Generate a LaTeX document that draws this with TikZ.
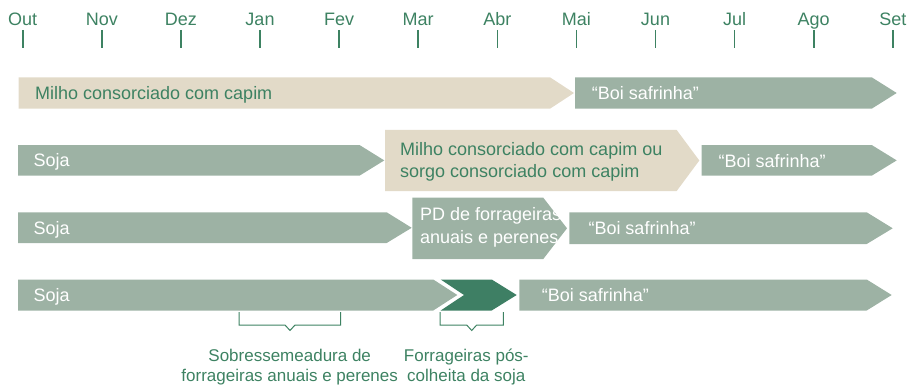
\documentclass[tikz,border=0pt]{standalone}
\usepackage{fontspec}
\setmainfont{Liberation Sans}
\definecolor{beige}{HTML}{E2DAC8}
\definecolor{sage}{HTML}{9DB2A4}
\definecolor{dkgreen}{HTML}{3E7F64}
\definecolor{txtgreen}{HTML}{3D8262}
\begin{document}
\begin{tikzpicture}[x=1pt,y=-1pt,
  lbl/.style={font=\fontsize{18}{20}\selectfont, inner sep=0, anchor=base west},
  wlbl/.style={lbl, text=white},
  glbl/.style={lbl, text=txtgreen},
  month/.style={font=\fontsize{18}{20}\selectfont, inner sep=0, anchor=base, text=txtgreen},
  monthtick/.style={draw=txtgreen, line width=1.6pt},
  bracket/.style={draw=txtgreen, line width=1pt},
  note/.style={font=\fontsize{17}{20}\selectfont, inner sep=0, anchor=base, text=txtgreen}]

\useasboundingbox (0,0) rectangle (907,385);

% timeline
\foreach \m [count=\i from 0] in {Out,Nov,Dez,Jan,Fev,Mar,Abr,Mai,Jun,Jul,Ago,Set} {
  \node[month] (m\i) at ({22.7+79.1*\i},26) {\m};
  \draw[monthtick] ({22.7+79.1*\i},30) -- ({22.7+79.1*\i},48.3);
}

% row 1
\fill[beige] (18.5,77.3) -- (550,77.3) -- (574,93) -- (550,108.7) -- (18.5,108.7) -- cycle;
\fill[sage] (575,77.3) -- (871.7,77.3) -- (896.7,93) -- (871.7,108.7) -- (575,108.7) -- cycle;

% row 2
\fill[sage] (18,145) -- (359.5,145) -- (384.3,160.4) -- (359.5,175.7) -- (18,175.7) -- cycle;
\fill[beige] (385,130) -- (676.7,130) -- (699.3,160.5) -- (676.7,191) -- (385,191) -- cycle;
\fill[sage] (701.7,145) -- (871.7,145) -- (896.7,160.4) -- (871.7,175.7) -- (701.7,175.7) -- cycle;

% row 3
\fill[sage] (18,212.3) -- (386.7,212.3) -- (411.7,227.8) -- (386.7,243) -- (18,243) -- cycle;
\fill[sage] (412.3,197.7) -- (543.3,197.7) -- (567,228.3) -- (543.3,259) -- (412.3,259) -- cycle;
\fill[sage] (569.3,212.3) -- (866.7,212.3) -- (892.7,228.3) -- (866.7,244) -- (569.3,244) -- cycle;

% row 4
\fill[sage] (18,279.5) -- (433.3,279.5) -- (457.3,295) -- (433.3,310.5) -- (18,310.5) -- cycle;
\fill[dkgreen] (440.7,279.5) -- (491.7,279.5) -- (516.7,295) -- (491.7,310.5) -- (440.7,310.5) -- (464,295) -- cycle;
\fill[sage] (519.3,279.5) -- (866.7,279.5) -- (891.7,295) -- (866.7,310.5) -- (519.3,310.5) -- cycle;

% texts
\node[glbl] (t1a) at (35,99.3) {Milho consorciado com capim};
\node[wlbl] (t1b) at (591.7,99.3) {“Boi safrinha”};
\node[wlbl] (t2a) at (33.3,166.8) {Soja};
\node[glbl] (t2b1) at (400,155) {Milho consorciado com capim ou};
\node[glbl] (t2b2) at (400,177) {sorgo consorciado com capim};
\node[wlbl] (t2c) at (718.3,167) {“Boi safrinha”};
\node[wlbl] (t3a) at (33.3,234.5) {Soja};
\node[wlbl] (t3b1) at (420,220) {PD de forrageiras};
\node[wlbl] (t3b2) at (420,243) {anuais e perenes};
\node[wlbl] (t3c) at (588.3,234.5) {“Boi safrinha”};
\node[wlbl] (t4a) at (33.3,301.5) {Soja};
\node[wlbl] (t4b) at (541.7,301.5) {“Boi safrinha”};

% brackets
\draw[bracket] (239,312) -- (239,325) -- (285,325) -- (290,330.5) -- (295,325) -- (340.7,325) -- (340.7,312);
\draw[bracket] (440,312) -- (440,325) -- (466.7,325) -- (471.7,330.5) -- (476.7,325) -- (503.3,325) -- (503.3,312);

% notes
\node[note] (n1a) at (289.7,361.7) {Sobressemeadura de};
\node[note] (n1b) at (289.7,381.7) {forrageiras anuais e perenes};
\node[note] (n2a) at (466.3,361.7) {Forrageiras pós-};
\node[note] (n2b) at (466.3,381.7) {colheita da soja};
\end{tikzpicture}
\end{document}
